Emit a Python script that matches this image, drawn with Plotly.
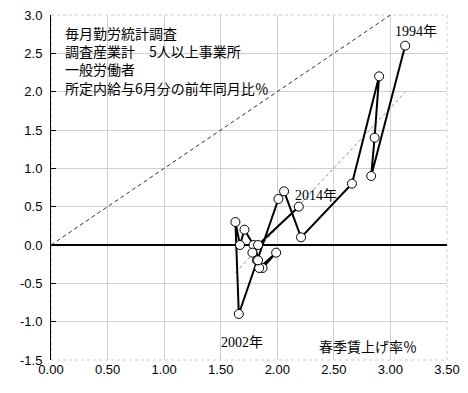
import plotly.graph_objects as go
import numpy as np

years = list(range(1994, 2015))
shunto = [3.13, 2.83, 2.86, 2.90, 2.66, 2.21, 2.06, 2.01, 1.66, 1.63, 1.67,
          1.71, 1.79, 1.87, 1.99, 1.84, 1.82, 1.83, 1.78, 1.83, 2.19]
wage = [2.6, 0.9, 1.4, 2.2, 0.8, 0.1, 0.7, 0.6, -0.9, 0.3, 0.0,
        0.2, 0.0, -0.3, -0.1, -0.3, -0.2, -0.2, -0.1, 0.0, 0.5]
diag_x = [0.0, 3.0]
diag_y = [0.0, 3.0]
x_ticks = [0.0, 0.5, 1.0, 1.5, 2.0, 2.5, 3.0, 3.5]
y_ticks = [-1.5, -1.0, -0.5, 0.0, 0.5, 1.0, 1.5, 2.0, 2.5, 3.0]
info_lines = ["毎月勤労統計調査", "調査産業計　5人以上事業所", "一般労働者", "所定内給与6月分の前年同月比％"]
x_title = "春季賃上げ率％"

slope, intercept = np.polyfit(shunto, wage, 1)
trend_x = [min(shunto), max(shunto)]
trend_y = [slope * v + intercept for v in trend_x]

JP = "Noto Sans CJK JP"
SERIF = "Liberation Serif, Noto Sans CJK JP"

fig = go.Figure()
fig.add_trace(go.Scatter(x=diag_x, y=diag_y, mode="lines",
                         line=dict(color="#333333", width=1, dash="4px,3px"),
                         hoverinfo="skip", showlegend=False))
fig.add_trace(go.Scatter(x=trend_x, y=trend_y, mode="lines",
                         line=dict(color="#5b8fd9", width=1, dash="dot"),
                         hoverinfo="skip", showlegend=False))
fig.add_trace(go.Scatter(x=shunto, y=wage, mode="lines+markers",
                         line=dict(color="black", width=2),
                         marker=dict(symbol="circle", size=9, color="white",
                                     line=dict(color="black", width=1)),
                         text=[str(y) for y in years], showlegend=False))

ann = [dict(x=0.03, y=0.982, xref="paper", yref="paper",
            text="<br>".join(info_lines), align="left",
            showarrow=False, xanchor="left", yanchor="top",
            font=dict(family=JP, size=14, color="black"))]
ann.append(dict(x=0.8, y=0.04, xref="paper", yref="paper", text=x_title,
                showarrow=False, xanchor="center", yanchor="middle",
                font=dict(family=JP, size=14, color="black")))
for idx, dx, dy in [(0, 11, 14), (20, 17, 11), (8, 3, -28)]:
    ann.append(dict(x=shunto[idx], y=wage[idx], xref="x", yref="y",
                    text=f"{years[idx]}年", showarrow=False,
                    xshift=dx, yshift=dy, xanchor="center", yanchor="middle",
                    font=dict(family=SERIF, size=14, color="black")))

fig.update_layout(
    width=468, height=393,
    margin=dict(l=51, r=21, t=15, b=33),
    paper_bgcolor="white", plot_bgcolor="white",
    annotations=ann,
    xaxis=dict(range=[0, 3.5], tickvals=x_ticks, tickformat=".2f",
               showgrid=True, gridcolor="#cfcfcf", gridwidth=1,
               showline=False, zeroline=False, ticks="", automargin=False,
               tickfont=dict(family="Liberation Sans", size=13, color="black")),
    xaxis2=dict(range=[0, 3.5], tickvals=x_ticks, overlaying="x", anchor="free",
                position=1.5 / 4.5, side="bottom", showticklabels=False,
                showgrid=False, showline=False, zeroline=False,
                ticks="inside", ticklen=5, tickcolor="black"),
    yaxis=dict(range=[-1.5, 3.0], tickvals=y_ticks,
               ticktext=[f"{v:.1f}" for v in y_ticks],
               showgrid=True, gridcolor="#cfcfcf", gridwidth=1,
               showline=True, linecolor="black", linewidth=1,
               ticks="inside", ticklen=5, tickcolor="black",
               zeroline=True, zerolinecolor="black", zerolinewidth=1.5,
               automargin=False, ticklabelstandoff=5,
               tickfont=dict(family="Liberation Sans", size=13, color="black")),
    shapes=[dict(type="rect", xref="paper", yref="paper", x0=0, x1=1, y0=0, y1=1,
                 line=dict(color="#d8c8cc", width=1, dash="dot"), layer="below")],
)

fig.write_html("out.html", config={"displayModeBar": False},
               post_script="document.body.style.margin='0';document.body.style.overflow='hidden';")
